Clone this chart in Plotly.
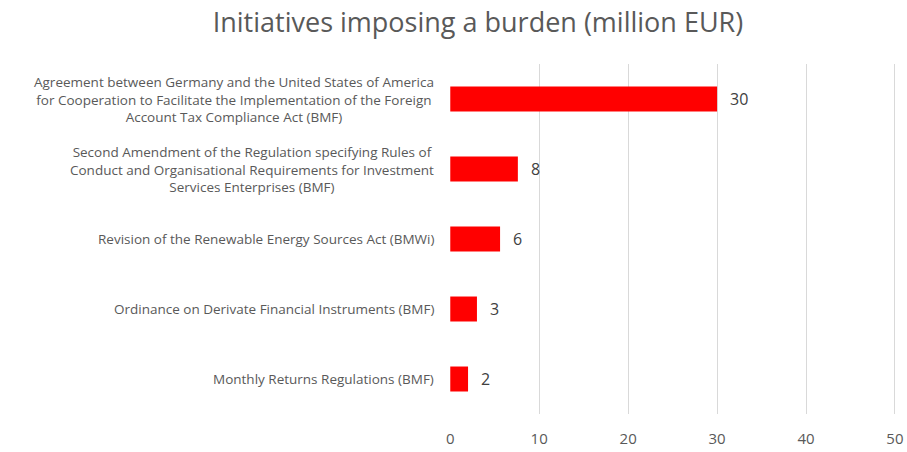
import plotly.graph_objects as go

categories = [
    "Agreement between Germany and the United States of America<br>for Cooperation to Facilitate the Implementation of the Foreign<br>Account Tax Compliance Act (BMF)",
    "Second Amendment of the Regulation specifying Rules of<br>Conduct and Organisational Requirements for Investment<br>Services Enterprises (BMF)",
    "Revision of the Renewable Energy Sources Act (BMWi)",
    "Ordinance on Derivate Financial Instruments (BMF)",
    "Monthly Returns Regulations (BMF)",
]
values = [30, 7.6, 5.6, 3.0, 2.0]
value_labels = ["30", "8", "6", "3", "2"]
x_ticks = [0, 10, 20, 30, 40, 50]

TXT = "#595959"
FONT = "Open Sans"

fig = go.Figure(go.Bar(
    x=values, y=categories, orientation="h",
    marker=dict(color="#ff0000", line=dict(width=0)),
    hoverinfo="skip",
))

annotations = []
for c, v, lab in zip(categories, values, value_labels):
    annotations.append(dict(x=v, y=c, xref="x", yref="y", text=lab, showarrow=False,
                            xanchor="left", yanchor="middle", xshift=11,
                            font=dict(family=FONT, size=16, color="#404040")))
    annotations.append(dict(x=0, y=c, xref="paper", yref="y", text=c, showarrow=False,
                            xanchor="right", yanchor="middle", align="center", xshift=-14,
                            font=dict(family=FONT, size=13.5, color=TXT)))

fig.update_layout(
    width=907, height=452,
    margin=dict(l=450, r=11, t=64, b=38, autoexpand=False),
    paper_bgcolor="white", plot_bgcolor="white",
    title=dict(text="Initiatives imposing a burden (million EUR)", x=0.527, xanchor="center",
               y=0.95, yanchor="middle",
               font=dict(family=FONT, size=27, color=TXT)),
    bargap=0.643,
    showlegend=False,
    annotations=annotations,
    xaxis=dict(range=[-0.03, 50.12], tickvals=x_ticks, showgrid=True, gridcolor="#d9d9d9", gridwidth=1,
               zeroline=False, showline=False, ticks="", ticklabelstandoff=14, automargin=False,
               tickfont=dict(family=FONT, size=15, color=TXT)),
    yaxis=dict(categoryorder="array", categoryarray=categories[::-1], showticklabels=False,
               showgrid=False, zeroline=False, showline=False, ticks="", automargin=False),
)

fig.write_html(
    "out.html",
    config={"displayModeBar": False},
    post_script="document.body.style.margin='0';document.body.style.overflow='hidden';",
)
